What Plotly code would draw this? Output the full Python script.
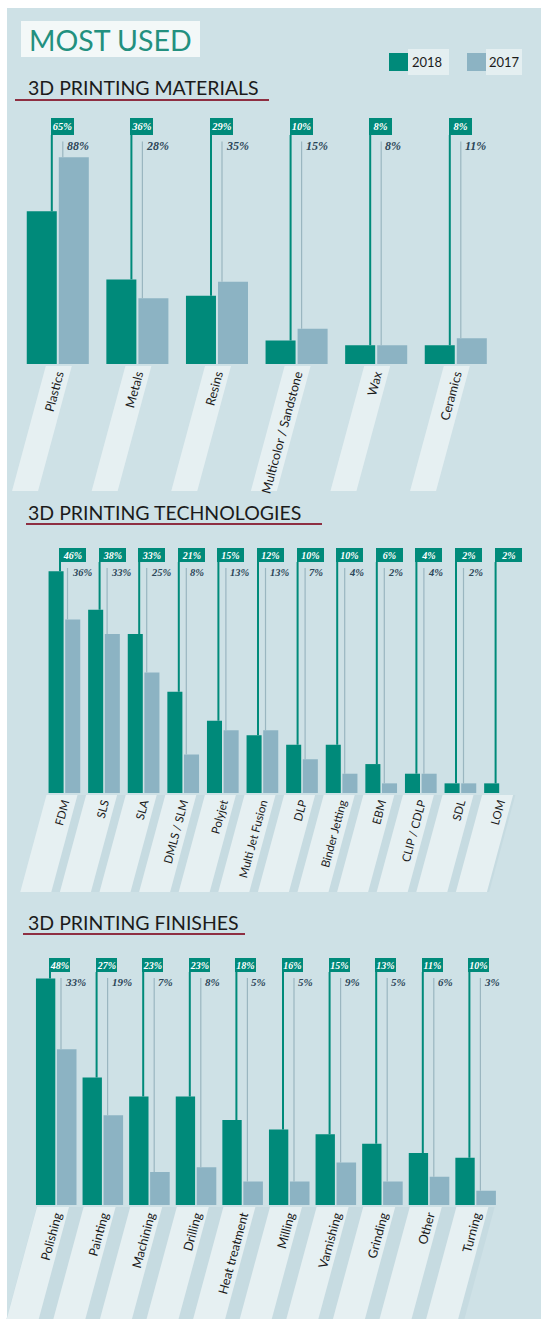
import plotly.graph_objects as go

W, H = 541, 1319

# ---- data -------------------------------------------------------------
materials = ["Plastics", "Metals", "Resins", "Multicolor / Sandstone", "Wax", "Ceramics"]
materials_2018 = [65, 36, 29, 10, 8, 8]
materials_2017 = [88, 28, 35, 15, 8, 11]

technologies = ["FDM", "SLS", "SLA", "DMLS / SLM", "Polyjet", "Multi Jet Fusion",
                "DLP", "Binder Jetting", "EBM", "CLIP / CDLP", "SDL", "LOM"]
technologies_2018 = [46, 38, 33, 21, 15, 12, 10, 10, 6, 4, 2, 2]
technologies_2017 = [36, 33, 25, 8, 13, 13, 7, 4, 2, 4, 2, None]

finishes = ["Polishing", "Painting", "Machining", "Drilling", "Heat treatment",
            "Milling", "Varnishing", "Grinding", "Other", "Turning"]
finishes_2018 = [48, 27, 23, 23, 18, 16, 15, 13, 11, 10]
finishes_2017 = [33, 19, 7, 8, 5, 5, 9, 5, 6, 3]

years = ["2018", "2017"]

# ---- style ------------------------------------------------------------
TEAL = "#008a7a"
GREY = "#8cb3c3"
PANEL = "#cee1e6"
BAND = "#e6f0f2"
BAND_SHADE = "#c6dbe1"
INK = "#1b1b1b"
LABEL_INK = "#2c4658"
RULE = "#8e2f42"
SANS = "Lato, 'Open Sans', sans-serif"
SERIF = "'Liberation Serif', 'DejaVu Serif', serif"


def px(x):
    return x / W


def py(y):
    return 1 - y / H


sections = [
    dict(cats=materials, v18=materials_2018, v17=materials_2017,
         title="3D PRINTING MATERIALS", title_y=88, rule=(15, 269, 100),
         base=364, scale=2.35, c0=57.8, step=79.6, top=110,
         b18=(-0.39, 0.377), b17=(0.0125, 0.377), teal_dx=-6, grey_dx=5,
         box=(118, 135, 23), lab17_y=145.5, lab17_size=12, box_size=10.5,
         band_w=26, band_dc=1, band_bot=491, band_shade=False, tick_size=12.5),
    dict(cats=technologies, v18=technologies_2018, v17=technologies_2017,
         title="3D PRINTING TECHNOLOGIES", title_y=512, rule=(26, 322, 524),
         base=793, scale=4.82, c0=64.0, step=39.6, top=540,
         b18=(-0.39, 0.38), b17=(0.03, 0.38), teal_dx=-4, grey_dx=3.5,
         box=(548, 562, 27), lab17_y=572, lab17_size=10.5, box_size=10,
         band_w=31, band_dc=-2, band_bot=892, band_shade=True, tick_size=11.5),
    dict(cats=finishes, v18=finishes_2018, v17=finishes_2017,
         title="3D PRINTING FINISHES", title_y=922, rule=(23, 245, 934),
         base=1205, scale=4.72, c0=56.0, step=46.6, top=950,
         b18=(-0.43, 0.415), b17=(0.02, 0.42), teal_dx=-6, grey_dx=5,
         box=(958, 972, 21), lab17_y=982, lab17_size=11, box_size=10,
         band_w=32, band_dc=-3, band_bot=1319, band_shade=True, tick_size=12.5),
]

fig = go.Figure()
shapes = []
annotations = []

# panel background
shapes.append(dict(type="rect", xref="paper", yref="paper", x0=px(7), x1=1,
                   y0=0, y1=py(8), fillcolor=PANEL, line_width=0, layer="below"))

for k, s in enumerate(sections):
    sfx = "" if k == 0 else str(k + 1)
    xa, ya = "x" + sfx, "y" + sfx
    n = len(s["cats"])
    idx = list(range(n))
    x_left = s["c0"] - s["step"] / 2
    x_right = s["c0"] + (n - 0.5) * s["step"]
    y_max = (s["base"] - s["top"]) / s["scale"]

    fig.update_layout(**{
        "xaxis" + sfx: dict(domain=[px(x_left), px(x_right)], range=[-0.5, n - 0.5],
                            anchor=ya, tickmode="array", tickvals=idx, ticktext=s["cats"],
                            tickangle=-75, ticks="", showgrid=False, zeroline=False,
                            showline=False, fixedrange=True,
                            tickfont=dict(family=SANS, size=s["tick_size"], color=INK)),
        "yaxis" + sfx: dict(domain=[py(s["base"]), py(s["top"])], range=[0, y_max],
                            anchor=xa, visible=False, showgrid=False, zeroline=False,
                            fixedrange=True),
    })

    for name, vals, (off, wd), col in ((years[0], s["v18"], s["b18"], TEAL),
                                       (years[1], s["v17"], s["b17"], GREY)):
        fig.add_trace(go.Bar(x=idx, y=vals, name=name, xaxis=xa, yaxis=ya,
                             offset=off, width=wd, marker=dict(color=col, line_width=0),
                             showlegend=False, hoverinfo="skip"))

    # slanted label bands under each category
    band_top = s["base"] + 2
    slant = 0.27 * (s["band_bot"] - band_top)
    if s["band_shade"]:
        l_top = x_left + 4
        r_top = x_right - 4
        shapes.append(dict(type="path", xref="paper", yref="paper", layer="below",
                           path=f"M{px(l_top)},{py(band_top)} L{px(r_top)},{py(band_top)} "
                                f"L{px(r_top - slant)},{py(s['band_bot'])} "
                                f"L{px(l_top - slant)},{py(s['band_bot'])} Z",
                           fillcolor=BAND_SHADE, line_width=0))
    for i in idx:
        c = s["c0"] + i * s["step"] + s["band_dc"]
        a, b = c - s["band_w"] / 2, c + s["band_w"] / 2
        shapes.append(dict(type="path", xref="paper", yref="paper", layer="below",
                           path=f"M{px(a)},{py(band_top)} L{px(b)},{py(band_top)} "
                                f"L{px(b - slant)},{py(s['band_bot'])} "
                                f"L{px(a - slant)},{py(s['band_bot'])} Z",
                           fillcolor=BAND, line_width=0))

    # value call-outs
    box_top, box_bot, box_w = s["box"]
    box_y = (s["base"] - box_bot) / s["scale"]
    grey_top = (s["base"] - (s["lab17_y"] - 4)) / s["scale"]
    for i in idx:
        v18, v17 = s["v18"][i], s["v17"][i]
        xt = i + s["teal_dx"] / s["step"]
        xg = i + s["grey_dx"] / s["step"]
        if v17 is not None:
            shapes.append(dict(type="line", xref=xa, yref=ya, x0=xg, x1=xg,
                               y0=v17, y1=grey_top, line=dict(color="#9ab6c0", width=1.2)))
            annotations.append(dict(xref=xa, yref="paper", x=xg, y=py(s["lab17_y"]),
                                    xanchor="left", yanchor="middle", xshift=2,
                                    text=f"<b><i>{v17}%</i></b>", showarrow=False,
                                    font=dict(family=SERIF, size=s["lab17_size"], color=LABEL_INK)))
        shapes.append(dict(type="line", xref=xa, yref=ya, x0=xt, x1=xt,
                           y0=v18, y1=box_y, line=dict(color=TEAL, width=2)))
        annotations.append(dict(xref=xa, yref="paper", x=xt, y=py(box_bot),
                                xanchor="left", yanchor="bottom", xshift=-1,
                                text=f"<b><i>{v18}%</i></b>", showarrow=False,
                                bgcolor=TEAL, borderwidth=0, borderpad=0,
                                width=box_w, height=box_bot - box_top, align="center",
                                valign="middle",
                                font=dict(family=SERIF, size=s["box_size"], color="white")))

    # section heading
    annotations.append(dict(xref="paper", yref="paper", x=px(26), y=py(s["title_y"]),
                            xanchor="left", yanchor="middle", text=s["title"],
                            showarrow=False, font=dict(family=SANS, size=19.5, color=INK)))
    r0, r1, ry = s["rule"]
    shapes.append(dict(type="line", xref="paper", yref="paper", x0=px(r0), x1=px(r1),
                       y0=py(ry), y1=py(ry), line=dict(color=RULE, width=2)))

# headline
shapes.append(dict(type="rect", xref="paper", yref="paper", x0=px(21), x1=px(200),
                   y0=py(57), y1=py(21), fillcolor="#f3f8f8", line_width=0))
annotations.append(dict(xref="paper", yref="paper", x=px(27), y=py(39.5),
                        xanchor="left", yanchor="middle", text="MOST USED", showarrow=False,
                        font=dict(family=SANS, size=28.5, color="#23907f")))

# legend
for (sx, bx1, tx), year, col in (((389, 449, 410), years[0], TEAL),
                                ((467, 522, 487), years[1], GREY)):
    shapes.append(dict(type="rect", xref="paper", yref="paper", x0=px(sx + 19), x1=px(bx1),
                       y0=py(75), y1=py(49), fillcolor="#e4eff1", line_width=0))
    shapes.append(dict(type="rect", xref="paper", yref="paper", x0=px(sx), x1=px(sx + 19),
                       y0=py(71), y1=py(53), fillcolor=col, line_width=0))
    annotations.append(dict(xref="paper", yref="paper", x=px(tx), y=py(62),
                            xanchor="left", yanchor="middle", text=year, showarrow=False,
                            font=dict(family=SANS, size=13, color=INK)))

fig.update_layout(width=W, height=H, margin=dict(l=0, r=0, t=0, b=0),
                  paper_bgcolor="white", plot_bgcolor="rgba(0,0,0,0)",
                  barmode="overlay", showlegend=False,
                  shapes=shapes, annotations=annotations)

fig.write_html("out.html")
